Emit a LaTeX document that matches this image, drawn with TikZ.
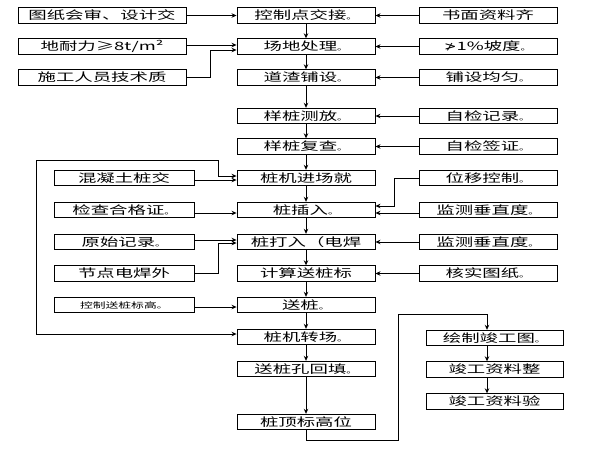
\documentclass[tikz,border=0pt]{standalone}
\usepackage{fontspec}
\usetikzlibrary{arrows.meta}
\newfontfamily\cjk[FakeStretch=1.6]{Noto Sans CJK SC}
\newfontfamily\djv[FakeStretch=1.3]{DejaVu Sans}
\newcommand\dotmk{{\fontsize{7pt}{7pt}\selectfont 。}}
\tikzset{
  box/.style={draw, line width=0.9pt, inner sep=0pt, minimum height=15.5pt,
    font=\cjk\fontsize{11.5pt}{12pt}\selectfont},
  cbox/.style={box, minimum width=138pt},
  rbox/.style={box, minimum width=138pt},
  lbox/.style={box, minimum width=168pt},
  lbbox/.style={box, minimum width=140pt},
  bbox/.style={box, minimum width=137pt},
  arr/.style={line width=0.8pt, -{Stealth[length=5pt,width=4.5pt]}},
  arr2/.style={line width=0.8pt, {Stealth[length=5pt,width=4.5pt]}-{Stealth[length=5pt,width=4.5pt]}},
  ln/.style={line width=0.8pt}
}
\begin{document}
\begin{tikzpicture}[x=1pt,y=-1pt]
\useasboundingbox (0,0) rectangle (600,450);
% centre column
\node[cbox] (c1) at (306,15.5) {控制点交接\dotmk};
\node[cbox] (c2) at (306,46.5) {场地处理\dotmk};
\node[cbox] (c3) at (306,77.5) {道渣铺设\dotmk};
\node[cbox] (c4) at (306,116) {样桩测放\dotmk};
\node[cbox] (c5) at (306,146.5) {样桩复查\dotmk};
\node[cbox] (c6) at (306,178) {桩机进场就};
\node[cbox] (c7) at (306,210) {桩插入\dotmk};
\node[cbox] (c8) at (306,242) {桩打入（电焊};
\node[cbox] (c9) at (306,273.5) {计算送桩标};
\node[cbox] (c10) at (306,305) {送桩\dotmk};
\node[cbox] (c11) at (306,337) {桩机转场\dotmk};
\node[cbox] (c12) at (306,369) {送桩孔回填\dotmk};
\node[cbox] (c13) at (306,422) {桩顶标高位};
% right column
\node[rbox] (r1) at (488,15.5) {书面资料齐};
\node[rbox] (r2) at (488,46.5) {{\djv ≯}1\%坡度\dotmk};
\node[rbox] (r3) at (488,77.5) {铺设均匀\dotmk};
\node[rbox] (r4) at (488,116) {自检记录\dotmk};
\node[rbox] (r5) at (488,146.5) {自检签证\dotmk};
\node[rbox] (r6) at (488,178) {位移控制\dotmk};
\node[rbox] (r7) at (488,210) {监测垂直度\dotmk};
\node[rbox] (r8) at (488,242) {监测垂直度\dotmk};
\node[rbox] (r9) at (488,273.5) {核实图纸\dotmk};
% left column
\node[lbox] (l1) at (102,15.5) {图纸会审、设计交};
\node[lbox] (l2) at (102,46.5) {地耐力≥8t/m²};
\node[lbox] (l3) at (102,77.5) {施工人员技术质};
\node[lbbox] (l4) at (124,178) {混凝土桩交};
\node[lbbox] (l5) at (124,210) {检查合格证\dotmk};
\node[lbbox] (l6) at (124,242) {原始记录\dotmk};
\node[lbbox] (l7) at (124,273.5) {节点电焊外};
\node[lbbox, font=\cjk\fontsize{8pt}{9pt}\selectfont] (l8) at (124,305) {控制送桩标高\dotmk};
% bottom right
\node[bbox] (b1) at (494.5,338) {绘制竣工图\dotmk};
\node[bbox] (b2) at (494.5,369.5) {竣工资料整};
\node[bbox] (b3) at (494.5,401.5) {竣工资料验};
% coordinates
\coordinate (k1) at (218,160);
\coordinate (k2) at (36,160);
\coordinate (d2) at (398,440);
\coordinate (d3) at (398,314);
% centre arrows
\foreach \a/\b in {c1/c2,c2/c3,c3/c4,c4/c5,c5/c6,c6/c7,c7/c8,c8/c9,c9/c10,c10/c11,c11/c12,c12/c13}
  \draw[arr] (\a.south) -- (\b.north);
% right arrows
\foreach \a/\b in {r1/c1,r2/c2,r3/c3,r4/c4,r5/c5,r8/c8,r9/c9}
  \draw[arr] (\a.west) -- (\b.east);
\draw[arr] (r6.west) -- ++(-24,0) |- ([yshift=4pt]c7.east);
\draw[arr] ([yshift=-3pt]r7.west) -- ([yshift=-3pt]c7.east);
% left arrows
\draw[arr] (l1.east) -- (c1.west);
\draw[arr] ([yshift=1.5pt]l2.east) -- ([yshift=1.5pt]c2.west);
\draw[arr] (l3.east) -- ++(24,0) |- ([yshift=-3.5pt]c2.west);
\draw[arr] ([yshift=-2pt]l4.east) -- ([yshift=-2pt]c6.west);
\draw[arr2] ([yshift=2pt]c6.west) -| (k1) -- (k2) |- ([yshift=3pt]c11.west);
\draw[arr] ([yshift=-3pt]l5.east) -- ([yshift=-3pt]c7.west);
\draw[arr] ([yshift=2pt]l6.east) -- ([yshift=2pt]c8.west);
\draw[arr] (l7.east) -- ++(24,0) |- ([yshift=-1pt]c8.west);
\draw[arr] ([yshift=-2pt]l8.east) -- ([yshift=-2pt]c10.west);
% bottom loop
\draw[arr] (c13.south) |- (d2) -- (d3) -| ([xshift=-7.5pt]b1.north);
\draw[arr] ([xshift=-7.5pt]b1.south) -- ([xshift=-7.5pt]b2.north);
\draw[arr] ([xshift=-7.5pt]b2.south) -- ([xshift=-7.5pt]b3.north);
\end{tikzpicture}
\end{document}
